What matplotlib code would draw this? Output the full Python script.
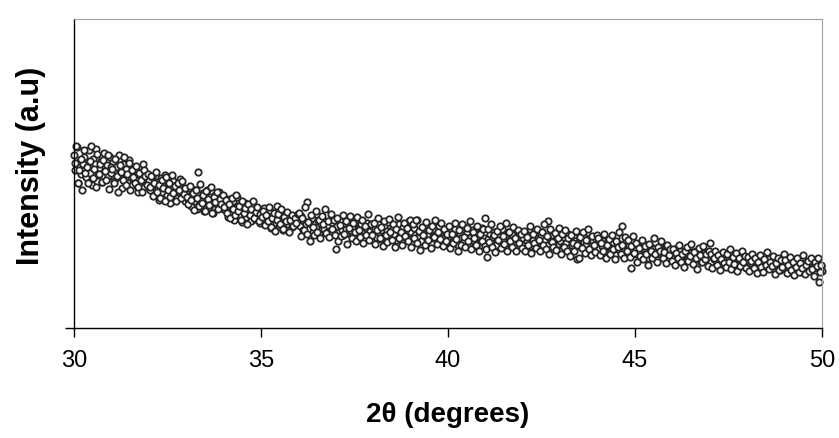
import matplotlib
matplotlib.use("Agg")
import matplotlib.pyplot as plt
import numpy as np

# XRD scan 30-50 deg, intensity (arbitrary units).
# scan A: points at 30.00, 30.04, ... ; scan B: the in-between points 30.02, 30.06, ...
scan_a_rows = [
    [560, 512, 585, 470, 541, 498, 530, 555, 489, 520, 575, 503, 462, 548, 531, 580, 495, 518, 540, 472, 566, 509, 527, 493, 552],
    [500, 538, 476, 521, 490, 560, 505, 452, 530, 487, 515, 470, 545, 498, 462, 520, 483, 508, 440, 495, 472, 530, 455, 488, 466],
    [478, 445, 490, 462, 430, 471, 452, 415, 486, 440, 460, 495, 432, 468, 405, 450, 477, 438, 462, 420, 455, 483, 428, 446, 410],
    [440, 418, 452, 396, 428, 410, 445, 385, 505, 420, 402, 436, 378, 415, 448, 392, 425, 405, 372, 430, 412, 395, 440, 388, 420],
    [405, 382, 418, 360, 396, 372, 410, 350, 388, 425, 365, 398, 342, 380, 405, 358, 390, 370, 345, 395, 378, 352, 385, 362, 340],
    [372, 350, 388, 335, 362, 345, 380, 325, 358, 370, 340, 395, 330, 352, 365, 318, 348, 372, 335, 356, 342, 328, 360, 338, 350],
    [350, 330, 362, 318, 345, 335, 408, 322, 340, 355, 312, 338, 328, 348, 305, 335, 352, 320, 342, 310, 332, 345, 315, 338, 325],
    [256, 330, 312, 345, 318, 300, 335, 322, 308, 340, 315, 298, 328, 350, 310, 320, 302, 335, 318, 292, 325, 340, 308, 315, 330],
    [305, 322, 295, 338, 310, 288, 318, 330, 300, 315, 342, 292, 312, 325, 305, 285, 320, 335, 298, 312, 328, 302, 290, 318, 345],
    [310, 290, 325, 300, 348, 295, 312, 280, 318, 305, 335, 288, 302, 320, 272, 298, 315, 305, 285, 330, 300, 292, 318, 278, 308],
    [300, 285, 312, 278, 295, 320, 288, 270, 305, 292, 330, 282, 298, 310, 275, 290, 318, 285, 300, 265, 295, 308, 280, 325, 292],
    [356, 230, 288, 305, 275, 295, 312, 268, 290, 300, 280, 322, 285, 262, 298, 310, 278, 292, 305, 270, 288, 315, 282, 295, 275],
    [290, 270, 305, 282, 295, 265, 300, 285, 318, 275, 290, 260, 298, 310, 278, 285, 270, 346, 292, 280, 300, 268, 285, 295, 272],
    [282, 298, 265, 290, 275, 305, 260, 285, 270, 295, 280, 223, 275, 290, 262, 300, 278, 268, 285, 255, 292, 270, 280, 262, 288],
    [275, 258, 290, 265, 280, 250, 270, 285, 245, 268, 278, 255, 295, 262, 272, 248, 330, 265, 252, 280, 240, 268, 194, 255, 262],
    [258, 240, 270, 248, 262, 232, 255, 245, 268, 228, 250, 262, 238, 255, 245, 225, 260, 240, 252, 232, 248, 265, 230, 245, 238],
    [242, 228, 255, 235, 220, 248, 230, 240, 215, 238, 252, 225, 235, 245, 218, 232, 248, 225, 238, 212, 230, 242, 220, 235, 228],
    [275, 215, 232, 222, 240, 210, 228, 218, 235, 205, 225, 238, 212, 222, 200, 230, 218, 208, 235, 215, 222, 202, 228, 212, 220],
    [215, 200, 225, 208, 218, 195, 212, 230, 202, 210, 222, 190, 208, 218, 198, 225, 205, 212, 195, 218, 202, 210, 188, 215, 200],
    [205, 192, 212, 198, 185, 208, 195, 215, 190, 202, 198, 182, 210, 195, 205, 188, 200, 212, 192, 198, 180, 205, 195, 150, 200, 185],
]
scan_b_rows = [
    [535, 590, 468, 512, 548, 445, 575, 502, 520, 468, 540, 590, 485, 515, 455, 562, 498, 530, 472, 545, 508, 480, 560, 450, 522],
    [515, 470, 548, 492, 440, 528, 505, 478, 555, 462, 498, 535, 448, 512, 488, 470, 525, 455, 502, 478, 440, 510, 492, 462, 498],
    [455, 492, 428, 470, 505, 440, 462, 420, 478, 452, 412, 488, 445, 470, 425, 495, 438, 458, 410, 468, 445, 420, 475, 435, 452],
    [425, 400, 458, 415, 438, 382, 448, 420, 395, 465, 405, 430, 380, 442, 418, 398, 455, 372, 425, 408, 440, 385, 418, 400, 432],
    [392, 415, 372, 402, 355, 420, 385, 365, 430, 378, 395, 348, 410, 372, 388, 338, 402, 365, 385, 412, 355, 375, 392, 345, 370],
    [358, 380, 332, 365, 345, 392, 328, 355, 372, 315, 350, 368, 338, 385, 322, 358, 345, 375, 310, 348, 365, 330, 355, 340, 368],
    [372, 298, 355, 318, 390, 305, 342, 280, 365, 328, 300, 378, 312, 350, 290, 362, 335, 385, 308, 345, 295, 370, 322, 350, 300],
    [355, 280, 332, 298, 365, 305, 345, 272, 325, 362, 290, 340, 310, 282, 358, 318, 295, 348, 275, 330, 302, 368, 285, 338, 300],
    [340, 272, 318, 355, 290, 328, 265, 345, 300, 278, 352, 312, 285, 335, 262, 322, 358, 292, 310, 270, 340, 298, 325, 280, 348],
    [262, 335, 290, 348, 275, 315, 252, 328, 300, 270, 342, 285, 318, 258, 330, 295, 350, 272, 310, 288, 340, 265, 322, 280, 305],
    [330, 258, 305, 275, 340, 288, 250, 318, 270, 335, 295, 262, 325, 280, 345, 255, 312, 290, 268, 330, 248, 305, 282, 320, 265],
    [255, 320, 278, 338, 262, 300, 245, 315, 285, 330, 258, 298, 272, 340, 250, 310, 280, 262, 328, 292, 248, 318, 275, 305, 260],
    [315, 250, 295, 268, 330, 242, 305, 275, 260, 322, 285, 248, 312, 270, 338, 255, 298, 240, 320, 278, 262, 308, 252, 290, 325],
    [240, 305, 262, 318, 250, 290, 232, 300, 275, 248, 315, 268, 228, 295, 258, 310, 242, 285, 320, 255, 235, 298, 270, 245, 302],
    [292, 235, 275, 250, 305, 228, 268, 288, 240, 300, 255, 222, 282, 262, 310, 238, 270, 225, 295, 248, 285, 230, 265, 298, 242],
    [275, 215, 258, 232, 285, 222, 265, 240, 205, 272, 248, 228, 290, 238, 212, 262, 250, 280, 225, 245, 210, 268, 235, 255, 218],
    [255, 205, 242, 225, 268, 212, 238, 198, 250, 262, 218, 232, 272, 208, 245, 225, 192, 258, 235, 215, 265, 222, 240, 200, 248],
    [240, 195, 228, 250, 205, 235, 188, 222, 245, 210, 198, 238, 215, 255, 192, 230, 208, 242, 185, 225, 200, 248, 212, 232, 195],
    [230, 185, 218, 240, 195, 225, 178, 212, 235, 198, 182, 222, 205, 245, 190, 215, 200, 232, 175, 210, 228, 188, 220, 198, 238],
    [220, 178, 205, 230, 188, 215, 170, 198, 225, 182, 210, 195, 235, 175, 205, 218, 185, 228, 192, 168, 212, 200, 225, 180, 205],
]
scan_a = np.concatenate([np.array(r, dtype=float) for r in scan_a_rows])
scan_b = np.concatenate([np.array(r, dtype=float) for r in scan_b_rows])
theta_a = np.linspace(30.00, 50.00, len(scan_a))
theta_b = np.linspace(30.02, 49.98, len(scan_b))

x_ticks = [30, 35, 40, 45, 50]

plt.rcParams['font.family'] = ['Liberation Sans', 'DejaVu Sans']

fig = plt.figure(figsize=(8.39, 4.38), dpi=100)
ax = fig.add_axes([74/839, 1 - 328/438, 748/839, 309/438])

marker_style = dict(linestyle='none', marker='o', markersize=4.6,
                    markerfacecolor='white', markeredgecolor='#262626',
                    markeredgewidth=1.3, clip_on=False)
ax.plot(theta_a, scan_a, **marker_style)
ax.plot(theta_b, scan_b, **marker_style)

ax.set_xlim(30, 50)
ax.set_ylim(0, 1000)
ax.set_xticks(x_ticks)
ax.set_xticklabels([str(t) for t in x_ticks], fontsize=17)
ax.set_yticks([0])
ax.set_yticklabels([''])
ax.tick_params(axis='both', direction='out', length=6.5, width=1, color='black', pad=9)

for side in ['top', 'right']:
    ax.spines[side].set_color('#a0a0a0')
    ax.spines[side].set_linewidth(0.8)
for side in ['left', 'bottom']:
    ax.spines[side].set_color('black')
    ax.spines[side].set_linewidth(1.0)

ax.set_xlabel('2θ (degrees)', fontsize=20, fontweight='bold', labelpad=22)
ax.set_ylabel('Intensity (a.u)', fontsize=22, fontweight='bold')
ax.yaxis.set_label_coords(-28/748, 0.526)

fig.savefig('out.png', dpi=100)
